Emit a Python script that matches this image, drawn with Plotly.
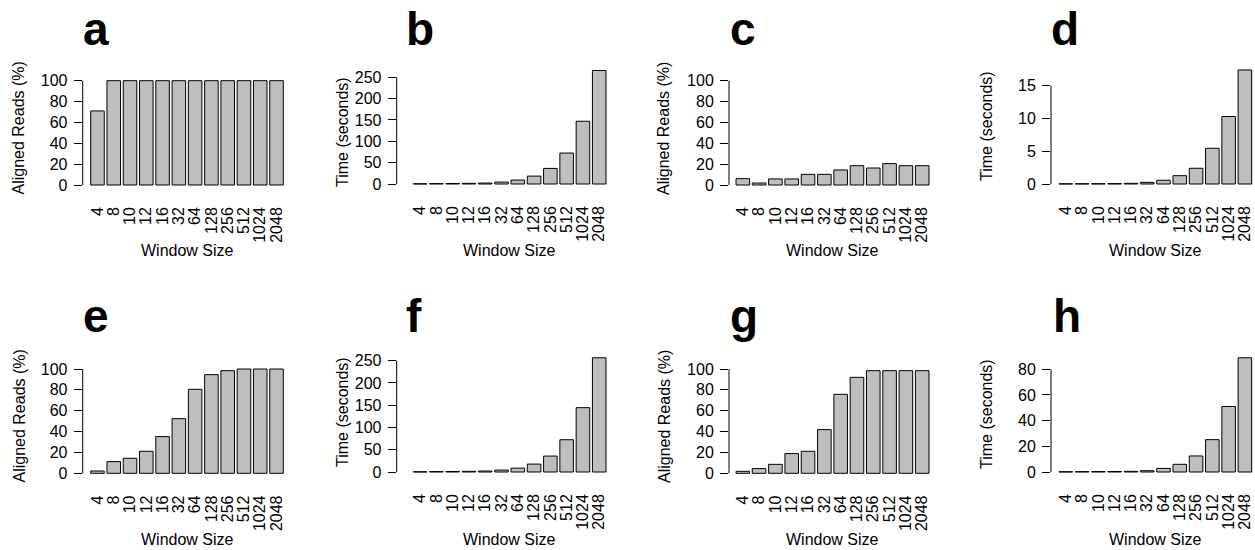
import plotly.graph_objects as go

# ---------------- data ----------------
window_sizes = ["4", "8", "10", "12", "16", "32", "64", "128", "256", "512", "1024", "2048"]

aligned_a = [71, 100, 100, 100, 100, 100, 100, 100, 100, 100, 100, 100]
time_b = [0.5, 1.0, 1.2, 1.5, 2.2, 4.5, 9.2, 18.5, 36.5, 72.5, 147, 266]
aligned_c = [6.1, 1.9, 5.8, 5.8, 10.2, 10.2, 14.4, 18.5, 16.3, 20.5, 18.5, 18.5]
time_d = [0.03, 0.04, 0.05, 0.06, 0.1, 0.25, 0.57, 1.27, 2.4, 5.45, 10.3, 17.4]
aligned_e = [2.2, 11.2, 14.4, 21.1, 35.2, 52.4, 80.5, 94.6, 98.4, 100, 100, 100]
time_f = [0.5, 1.0, 1.2, 1.5, 2.2, 4.3, 8.7, 17.8, 35.8, 72.5, 144.5, 256.5]
aligned_g = [1.9, 4.5, 8.6, 18.9, 21.1, 41.9, 75.7, 92, 98.4, 98.4, 98.4, 98.4]
time_h = [0.2, 0.3, 0.35, 0.4, 0.5, 1.0, 2.8, 6.0, 12.5, 25.2, 51, 89]

panel_letters = ["a", "b", "c", "d", "e", "f", "g", "h"]
panel_values = [aligned_a, time_b, aligned_c, time_d, aligned_e, time_f, aligned_g, time_h]
ytitle_aligned = "Aligned Reads (%)"
ytitle_time = "Time (seconds)"
xtitle = "Window Size"
yticks_pct = [0, 20, 40, 60, 80, 100]
yticks_time250 = [0, 50, 100, 150, 200, 250]
yticks_time15 = [0, 5, 10, 15]
yticks_time80 = [0, 20, 40, 60, 80]

panel_ytitles = [ytitle_aligned, ytitle_time, ytitle_aligned, ytitle_time,
                 ytitle_aligned, ytitle_time, ytitle_aligned, ytitle_time]
panel_yticks = [yticks_pct, yticks_time250, yticks_pct, yticks_time15,
                yticks_pct, yticks_time250, yticks_pct, yticks_time80]

# ---------------- layout (pixel geometry) ----------------
W, H = 1255, 550
# axis_px, bars_left, bars_right, zero_px, tick_px(for last tick), top_px, title_x, title_y, letter_x, letter_cy, xtitle_y
geom = [
    (82.7, 90.7, 283.3, 185.0, 80.7, 62, 18.5, 128, 80.5, 29, 251),
    (396.7, 413.3, 606.0, 184.0, 77.3, 62, 342, 132, 404, 29, 251),
    (729.0, 736.0, 929.0, 185.0, 80.7, 62, 664, 128, 727.5, 29, 251),
    (1051.0, 1059.0, 1251.7, 184.0, 85.7, 62, 986, 126, 1049, 29, 251),
    (82.7, 90.7, 283.3, 473.3, 369.0, 348, 18.5, 416, 80.5, 316, 539),
    (396.7, 413.3, 606.0, 472.0, 360.7, 348, 342, 412, 404, 316, 539),
    (729.0, 736.0, 929.0, 473.3, 369.0, 348, 664, 416, 727.5, 316, 539),
    (1051.0, 1059.0, 1251.7, 472.0, 369.3, 348, 986, 414, 1050.5, 316, 539),
]

FONT = "Liberation Sans, Arial, Helvetica, sans-serif"
BAR_FILL = "#BEBEBE"


def px_x(p):
    return p / W


def px_y(p):
    return 1 - p / H


fig = go.Figure()
annotations = []
shapes = []
layout_axes = {}

bar_frac = 1 / 1.2
half = bar_frac / 2

for i, (letter, vals, ytitle, yticks, g) in enumerate(
        zip(panel_letters, panel_values, panel_ytitles, panel_yticks, geom)):
    n = i + 1
    (axis_px, bl, br, zero_px, tick_px, top_px, tx, ty, lx, lcy, xty) = g
    xa = "x" if n == 1 else f"x{n}"
    ya = "y" if n == 1 else f"y{n}"
    xkey = "xaxis" if n == 1 else f"xaxis{n}"
    ykey = "yaxis" if n == 1 else f"yaxis{n}"

    fig.add_trace(go.Bar(
        x=window_sizes, y=vals, xaxis=xa, yaxis=ya,
        marker=dict(color=BAR_FILL, line=dict(color="black", width=1)),
        showlegend=False, hoverinfo="x+y",
    ))

    ppu_y = (zero_px - tick_px) / yticks[-1]
    ppx = (br - bl) / (len(window_sizes) - 1 + bar_frac)
    right_px = min(br + 3, W)
    x_lo = -half - (bl - axis_px) / ppx
    x_hi = (len(window_sizes) - 1) + half + (right_px - br) / ppx

    layout_axes[xkey] = dict(
        domain=[px_x(axis_px), px_x(right_px)], anchor=ya, type="category",
        range=[x_lo, x_hi], showgrid=False, zeroline=False, showline=False,
        automargin=False,
        tickmode="array", tickvals=window_sizes, ticktext=window_sizes,
        ticks="", tickangle=-90, ticklabelstandoff=14,
        tickfont=dict(family=FONT, size=16, color="black"), fixedrange=True,
    )
    layout_axes[ykey] = dict(
        domain=[px_y(zero_px + 4), px_y(top_px)], anchor=xa,
        range=[-4 / ppu_y, (zero_px - top_px) / ppu_y],
        showgrid=False, zeroline=False, showline=False, automargin=False,
        ticks="outside", ticklen=8, tickwidth=1, tickcolor="black",
        tickmode="array", tickvals=yticks, ticktext=[str(t) for t in yticks],
        ticklabelstandoff=3,
        tickfont=dict(family=FONT, size=16, color="black"), fixedrange=True,
    )

    # y axis line from first to last tick (R style)
    shapes.append(dict(type="line", xref=f"{xa} domain", yref=ya,
                       x0=0, x1=0, y0=yticks[0], y1=yticks[-1],
                       line=dict(color="black", width=1)))

    annotations.append(dict(text=ytitle, xref="paper", yref="paper",
                            x=px_x(tx), y=px_y(ty), xanchor="center", yanchor="middle",
                            textangle=-90, showarrow=False,
                            font=dict(family=FONT, size=16, color="black")))
    annotations.append(dict(text=xtitle, xref="paper", yref="paper",
                            x=px_x((bl + br) / 2), y=px_y(xty), xanchor="center",
                            yanchor="middle", showarrow=False,
                            font=dict(family=FONT, size=16, color="black")))
    annotations.append(dict(text=f"<b>{letter}</b>", xref="paper", yref="paper",
                            x=px_x(lx), y=px_y(lcy), xanchor="left", yanchor="middle",
                            showarrow=False,
                            font=dict(family=FONT, size=46, color="black")))

fig.update_layout(
    template="none",
    width=W, height=H, autosize=False,
    margin=dict(l=0, r=0, t=0, b=0, pad=0),
    paper_bgcolor="white", plot_bgcolor="white",
    bargap=1 - bar_frac,
    annotations=annotations, shapes=shapes,
    **layout_axes,
)

fig.write_html(
    "out.html",
    config={"displayModeBar": False},
    post_script="document.body.style.margin='0';document.body.style.overflow='hidden';",
)
